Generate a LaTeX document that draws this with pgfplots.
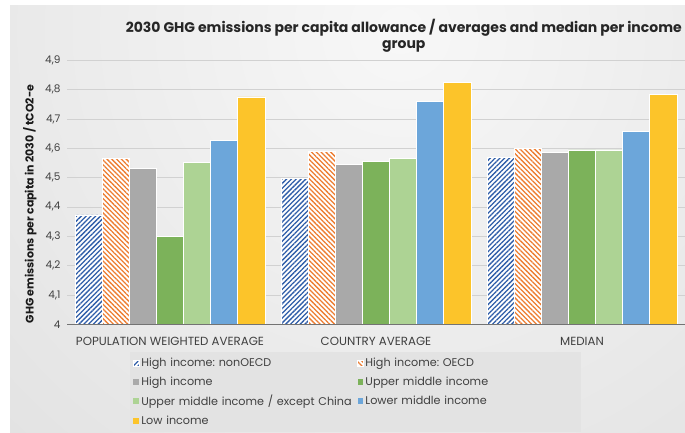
\documentclass[border=0pt]{standalone}
\usepackage{fontspec}
\setmainfont{Poppins}
\usepackage{pgfplots}
\pgfplotsset{compat=1.18}
\usetikzlibrary{patterns.meta}
\definecolor{cBlueH}{HTML}{2F5DA8}
\definecolor{cOrangeH}{HTML}{ED7D31}
\definecolor{cGrey}{HTML}{A9A9A9}
\definecolor{cGreen}{HTML}{7CB25A}
\definecolor{cLGreen}{HTML}{ADD394}
\definecolor{cBlue}{HTML}{6CA6DA}
\definecolor{cGold}{HTML}{FCC42A}
\definecolor{cText}{HTML}{404040}
\begin{document}
\frenchspacing
\begin{tikzpicture}[x=1pt,y=1pt]
\path[use as bounding box] (0,0) rectangle (685,432);
\fill[white] (0,0) rectangle (685,432);
\begin{scope}
\clip (10,0) rectangle (685,426);
\shade[inner color=white!97!black, outer color=black!20] (400,402) circle (1200);
\end{scope}
\begin{axis}[
  at={(67pt,107.7pt)}, anchor=south west,
  scale only axis, width=618pt, height=264pt,
  ybar=0pt, bar width=0.1315,
  xmin=-0.5, xmax=2.5, ymin=4, ymax=4.9,
  xtick={0,1,2},
  xticklabels={POPULATION WEIGHTED AVERAGE, COUNTRY AVERAGE, MEDIAN},
  ytick={4,4.1,4.2,4.3,4.4,4.5,4.6,4.7,4.8,4.9},
  /pgf/number format/assume math mode=true,
  /pgf/number format/use comma,
  major tick length=0pt, tick style={draw=none},
  axis x line=bottom, axis y line=left,
  y axis line style={draw=none},
  x axis line style={draw=none},
  ymajorgrids, grid style={black!18, line width=0.9pt},
  yticklabel style={font=\fontsize{10.5}{12}\selectfont, text=cText, xshift=-3pt},
  xticklabel style={font=\fontsize{11.8}{13}\selectfont, text=cText, yshift=-9pt},
  title={2030 GHG emissions per capita allowance / averages and median per income\\group},
  title style={at={(rel axis cs:0.545,1.0695)}, anchor=center, align=center, font=\bfseries\fontsize{14}{16}\selectfont, text=black!85},
  ylabel={GHG emissions per capita in 2030 / tCO2-e},
  ylabel style={at={(rel axis cs:-0.0599,0.456)}, anchor=center, font=\bfseries\fontsize{11}{12}\selectfont, text=black!90},
  legend columns=2,
  legend cell align=left,
  legend style={at={(0.102,-0.105)}, anchor=north west, fill=white!89!black, draw=none,
    font=\fontsize{11.2}{13}\selectfont, text=cText, row sep=4.5pt, inner ysep=4pt,
    nodes={text width=211pt, align=left},
    /tikz/every even column/.append style={column sep=3pt}},
  legend image code/.code={\draw[#1, draw=none] (0pt,-2.8pt) rectangle (5.6pt,2.8pt);},
  every axis plot/.append style={draw=white, line width=0.5pt},
]
\addplot[fill=white, postaction={pattern={Lines[angle=45,distance=3.4pt,line width=1.3pt]}, pattern color=cBlueH}]
  coordinates {(0,4.373) (1,4.498) (2,4.570)};
\addlegendentry{High income: nonOECD}
\addplot[fill=white, postaction={pattern={Lines[angle=-45,distance=3.4pt,line width=1.3pt]}, pattern color=cOrangeH}]
  coordinates {(0,4.566) (1,4.589) (2,4.599)};
\addlegendentry{High income: OECD}
\addplot[fill=cGrey] coordinates {(0,4.532) (1,4.544) (2,4.587)};
\addlegendentry{High income}
\addplot[fill=cGreen] coordinates {(0,4.301) (1,4.556) (2,4.595)};
\addlegendentry{Upper middle income}
\addplot[fill=cLGreen] coordinates {(0,4.553) (1,4.565) (2,4.595)};
\addlegendentry{Upper middle income / except China}
\addplot[fill=cBlue] coordinates {(0,4.628) (1,4.760) (2,4.657)};
\addlegendentry{Lower middle income}
\addplot[fill=cGold] coordinates {(0,4.775) (1,4.824) (2,4.785)};
\addlegendentry{Low income}
\draw[black!55, line width=0.9pt] (rel axis cs:0,0) -- (rel axis cs:1,0);
\end{axis}
\end{tikzpicture}
\end{document}
